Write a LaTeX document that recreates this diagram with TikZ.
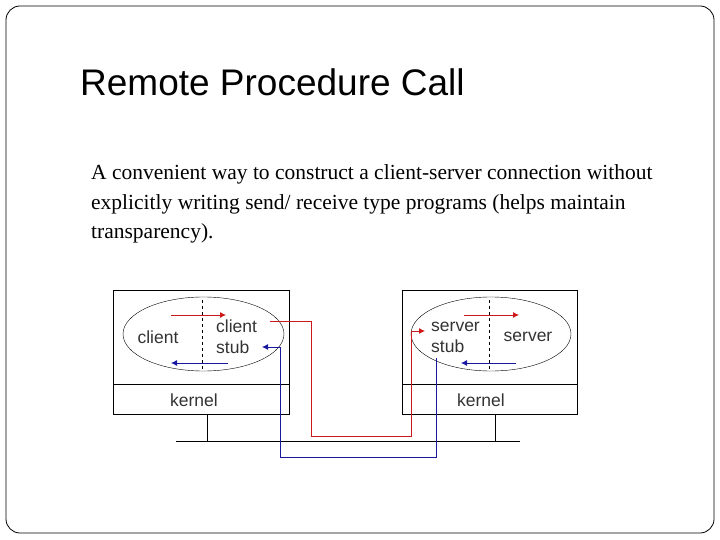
\documentclass[tikz,border=0pt]{standalone}
\usepackage{fontspec}
\usetikzlibrary{shapes.geometric,arrows.meta}
\setmainfont{Liberation Serif}
\newfontfamily\sansf{Liberation Sans}
\definecolor{reqc}{RGB}{205,25,25}
\definecolor{repc}{RGB}{25,25,160}
\begin{document}
\begin{tikzpicture}[x=1pt,y=-1pt,
  box/.style={draw,line width=0.6pt},
  lbl/.style={font=\sansf\fontsize{17.5}{21}\selectfont,text=black!80,inner sep=0pt},
  req/.style={draw=reqc,line width=0.8pt},
  rep/.style={draw=repc,line width=0.8pt},
  tip/.style={-{Latex[length=6pt,width=6pt]}}]
\useasboundingbox (0,0) rectangle (720,540);
\draw[rounded corners=14pt,line width=0.8pt] (6,6) rectangle (714,533);
\node[anchor=base west,inner sep=0pt,font=\sansf\fontsize{37}{40}\selectfont] (title) at (80,96) {Remote Procedure Call};
\node[anchor=base west,inner sep=0pt,align=left,font=\fontsize{21.5}{29.5}\selectfont] (body) at (91,239)
 {A convenient way to construct a client-server connection without\\explicitly writing send/ receive type programs (helps maintain\\transparency).};
% machines
\draw[box] (113,290) rectangle (289,414); \draw[box] (113,384) -- (289,384);
\draw[box] (402,290) rectangle (577,414); \draw[box] (402,384) -- (577,384);
\node[draw,ellipse,minimum width=161,minimum height=74,inner sep=0pt] (ce) at (203.5,334) {};
\node[draw,ellipse,minimum width=160,minimum height=74,inner sep=0pt] (se) at (491,334) {};
\draw[dashed] (202,300) -- (202,371);
\draw[dashed] (489,300) -- (489,371);
\node[lbl] (client) at (158,337) {client};
\node[lbl,align=left,anchor=west] (cstub) at (216,337) {client\\stub};
\node[lbl,align=left,anchor=west] (sstub) at (431,337) {server\\stub};
\node[lbl] (server) at (528,337) {server};
\node[lbl] (k1) at (194,400) {kernel};
\node[lbl] (k2) at (481,400) {kernel};
% inner arrows
\coordinate (a1) at (171,315); \coordinate (a2) at (226,315);
\coordinate (b1) at (228,363); \coordinate (b2) at (171,363);
\coordinate (c1) at (464,315); \coordinate (c2) at (519,315);
\coordinate (d1) at (516,363); \coordinate (d2) at (461,363);
\draw[req,tip] (a1) -- (a2); \draw[rep,tip] (b1) -- (b2);
\draw[req,tip] (c1) -- (c2); \draw[rep,tip] (d1) -- (d2);
% bus
\coordinate (bl) at (176,441); \coordinate (br) at (520,441);
\draw (bl) -- (br);
\draw (207,414) -- (207,441); \draw (495,414) -- (495,441);
% network paths
\coordinate (r0) at (270,321); \coordinate (r1) at (425,331);
\draw[req,tip] (r0) -- (311,321) -- (311,436) -- (411,436) -- (411,331) -- (r1);
\coordinate (u0) at (436,358); \coordinate (u1) at (262,347);
\draw[rep,tip] (u0) -- (436,457) -- (280,457) -- (280,347) -- (u1);
\end{tikzpicture}
\end{document}
